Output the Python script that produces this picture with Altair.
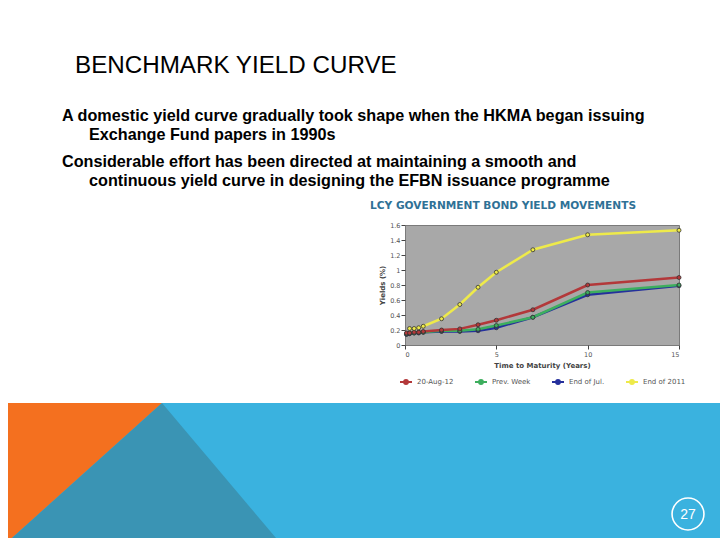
import altair as alt
import pandas as pd

# ---------------- data ----------------
maturity = [0.08, 0.25, 0.5, 0.75, 1, 2, 3, 4, 5, 7, 10, 15]
aug_20 = [0.16, 0.16, 0.17, 0.17, 0.18, 0.20, 0.215, 0.27, 0.33, 0.47, 0.80, 0.90]
prev_week = [0.15, 0.16, 0.16, 0.17, 0.17, 0.19, 0.19, 0.21, 0.26, 0.37, 0.70, 0.80]
end_jul = [0.14, 0.15, 0.16, 0.16, 0.17, 0.18, 0.18, 0.19, 0.23, 0.37, 0.67, 0.79]
maturity_2011 = [0.25, 0.5, 0.75, 1, 2, 3, 4, 5, 7, 10, 15]
end_2011 = [0.22, 0.22, 0.23, 0.25, 0.35, 0.54, 0.77, 0.97, 1.27, 1.47, 1.53]

series_names = ["20-Aug-12", "Prev. Week", "End of Jul.", "End of 2011"]
series_colors = ["#B3383A", "#3DAE5E", "#25309C", "#EEEA4A"]
x_ticks = [0, 5, 10, 15]
y_ticks = [0, 0.2, 0.4, 0.6, 0.8, 1, 1.2, 1.4, 1.6]

slide_title = "BENCHMARK YIELD CURVE"
bullet_lines = [
    "A domestic yield curve gradually took shape when the HKMA began issuing",
    "Exchange Fund papers in 1990s",
    "Considerable effort has been directed at maintaining a smooth and",
    "continuous yield curve in designing the EFBN issuance programme",
]
chart_title = "LCY GOVERNMENT BOND YIELD MOVEMENTS"
page_number = "27"

# long table, in drawing order (bottom-most series first)
rows = []
for name, xs, ys in [
    ("End of Jul.", maturity, end_jul),
    ("Prev. Week", maturity, prev_week),
    ("20-Aug-12", maturity, aug_20),
    ("End of 2011", maturity_2011, end_2011),
]:
    for xv, yv in zip(xs, ys):
        rows.append({"series": name, "maturity": xv, "yield": yv})
df = pd.DataFrame(rows)

# ---------------- slide layout (pixels in the 728x546 slide) ----------------
OX, OY = 405, 225          # top-left of the plot area in slide pixels
PLOT_W, PLOT_H = 274, 120


def px(v):
    return v - OX


def py(v):
    return v - OY


one = pd.DataFrame({"k": [0]})
sx_scale = alt.Scale(domain=[0, 728], range=[px(0), px(728)], nice=False, zero=False)
sy_scale = alt.Scale(domain=[0, 546], range=[py(0), py(546)], nice=False, zero=False)

anchor = alt.Chart(one).mark_rect(color="white").encode(
    x=alt.value(px(8)), x2=alt.value(px(720)), y=alt.value(py(8)), y2=alt.value(py(200))
)
band = alt.Chart(one).mark_rect(color="#3AB2DF").encode(
    x=alt.value(px(8)), x2=alt.value(px(720)), y=alt.value(py(403)), y2=alt.value(py(538))
)
orange_shape = pd.DataFrame({"sx": [8, 12, 162], "sy": [403, 403, 403], "sy2": [538, 538, 403]})
teal_shape = pd.DataFrame({"sx": [12, 162, 276], "sy": [538, 403, 538], "sy2": [538, 538, 538]})


def shape_layer(data, color):
    return alt.Chart(data).mark_area(color=color, opacity=1).encode(
        x=alt.X("sx:Q", scale=sx_scale, axis=None),
        y=alt.Y("sy:Q", scale=sy_scale, axis=None),
        y2="sy2:Q",
    )


orange = shape_layer(orange_shape, "#F4701F")
teal = shape_layer(teal_shape, "#3A94B4")


def text_layer(txt, x, y, size, weight="normal", color="black", font="Liberation Sans", align="left"):
    return alt.Chart(one).mark_text(
        text=txt, font=font, fontSize=size, fontWeight=weight, color=color,
        align=align, baseline="alphabetic",
    ).encode(x=alt.value(px(x)), y=alt.value(py(y)))


texts = [
    text_layer(slide_title, 75, 73, 24.2),
    text_layer(bullet_lines[0], 62, 121, 16.2, "bold"),
    text_layer(bullet_lines[1], 89, 140, 16.2, "bold"),
    text_layer(bullet_lines[2], 62, 167, 16.2, "bold"),
    text_layer(bullet_lines[3], 89, 186, 16.2, "bold"),
    text_layer(chart_title, 370, 209, 10.6, "bold", "#2F7196", "DejaVu Sans"),
    text_layer(page_number, 688, 519, 14, "normal", "white", "Liberation Sans", "center"),
]

circle = alt.Chart(one).mark_point(
    shape="circle", size=1018, filled=False, stroke="white", strokeWidth=1.6, opacity=1
).encode(x=alt.value(px(688)), y=alt.value(py(514)))

# ---------------- the yield chart ----------------
legend_symbol = "M-1,0L1,0M-0.32,0A0.32,0.32,0,1,0,0.32,0A0.32,0.32,0,1,0,-0.32,0Z"

base = alt.Chart(df).encode(
    x=alt.X(
        "maturity:Q",
        scale=alt.Scale(domain=[0, 15], nice=False, zero=False),
        axis=alt.Axis(values=x_ticks, title="Time to Maturity (Years)", orient="bottom",
                      format="~g", labelPadding=2, titlePadding=4),
    ),
    y=alt.Y(
        "yield:Q",
        scale=alt.Scale(domain=[0, 1.6], nice=False),
        axis=alt.Axis(values=y_ticks, title="Yields (%)", orient="left", format="~g",
                      labelPadding=1, titlePadding=4),
    ),
    color=alt.Color(
        "series:N",
        scale=alt.Scale(domain=series_names, range=series_colors),
        legend=alt.Legend(
            title=None, orient="none", legendX=-6, legendY=150, direction="horizontal",
            symbolType=legend_symbol, symbolSize=144, symbolStrokeWidth=2,
            symbolFillColor="#333", labelFont="DejaVu Sans", labelFontSize=7,
            labelColor="#555", columnPadding=17, labelOffset=4,
        ),
    ),
)
lines = base.mark_line(strokeWidth=2.5)
points = base.mark_point(shape="circle", filled=True, size=16, stroke="#333",
                         strokeWidth=0.8, opacity=1)
yield_chart = alt.layer(lines, points)

chart = (
    alt.layer(anchor, band, orange, teal, *texts, circle, yield_chart)
    .resolve_scale(x="independent", y="independent")
    .properties(width=PLOT_W, height=PLOT_H, padding=0, background="white")
    .configure_view(fill="#A8A8A8", stroke="#7A7A7A", strokeWidth=1)
    .configure_axis(
        grid=True, gridColor="#D0D0D0", gridWidth=1, domain=False,
        tickColor="#444", tickSize=4, labelFont="DejaVu Sans", labelFontSize=6.5,
        labelColor="#555", titleFont="DejaVu Sans", titleFontSize=7,
        titleFontWeight="bold", titleColor="#444",
    )
)

chart.save("out.html", embed_options={"renderer": "svg", "actions": False})
